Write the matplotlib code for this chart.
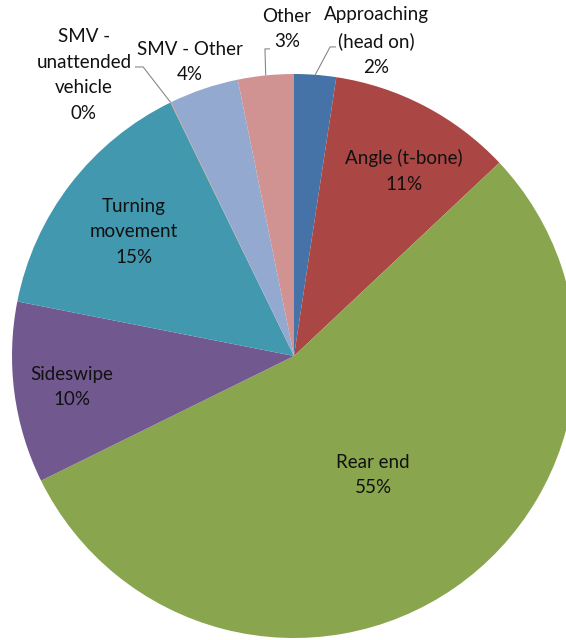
import matplotlib
matplotlib.use('Agg')
import matplotlib.pyplot as plt
import numpy as np

plt.rcParams['font.family'] = ['Lato', 'DejaVu Sans']

# Collision types (share of crashes, %)
categories = ['Approaching\n(head on)', 'Angle (t-bone)', 'Rear end', 'Sideswipe',
              'Turning\nmovement', 'SMV -\nunattended\nvehicle', 'SMV - Other', 'Other']
shares = [2.4, 10.6, 54.8, 10.4, 14.7, 0.03, 4.0, 3.2]
colours = ['#4572A7', '#AA4643', '#89A54E', '#71588F',
           '#4198AF', '#DB843D', '#93A9CF', '#D19392']

# label centres (data units, pie radius = 1)
label_xy = [(0.291, 1.117), (0.390, 0.656), (0.280, -0.422), (-0.787, -0.110),
            (-0.567, 0.440), (-0.745, 0.996), (-0.369, 1.043), (-0.025, 1.160)]
# leader lines for the outside labels: (tick start, tick end)
leaders = {0: ((0.149, 1.096), (0.128, 1.096)),
           5: ((-0.564, 1.025), (-0.535, 1.025)),
           7: ((-0.085, 1.089), (-0.103, 1.089))}

fig = plt.figure(figsize=(5.66, 6.40), dpi=100)
ax = fig.add_axes([0, 0, 1, 1])

wedges, _ = ax.pie(shares, colors=colours, startangle=90, counterclock=False,
                   radius=1, wedgeprops=dict(linewidth=0))

total = sum(shares)
for i, (cat, v) in enumerate(zip(categories, shares)):
    pct = v / total * 100
    x, y = label_xy[i]
    ax.text(x, y, f'{cat}\n{pct:.0f}%', ha='center', va='center',
            fontsize=13.5, linespacing=1.62, color='#111111', zorder=5)
    if i in leaders:
        w = wedges[i]
        mid = np.deg2rad((w.theta1 + w.theta2) / 2)
        ex, ey = np.cos(mid), np.sin(mid)
        (x0, y0), (x1, y1) = leaders[i]
        ax.plot([x0, x1, ex], [y0, y1, ey], color='#888888', lw=0.8,
                solid_capstyle='butt', zorder=4, clip_on=False)

ax.set_xlim(-294 / 282, (566 - 294) / 282)
ax.set_ylim(-(640 - 356) / 282, 356 / 282)
ax.set_aspect('auto')
ax.axis('off')

fig.savefig('out.png', dpi=100, facecolor='white')
